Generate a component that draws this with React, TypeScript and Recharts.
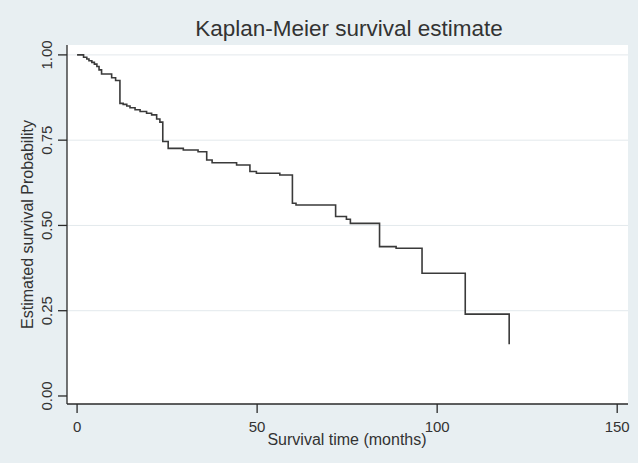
import React from 'react';
import { LineChart, Line, XAxis, YAxis, ReferenceLine, CartesianGrid } from 'recharts';

const months = [0, 1.8, 2.7, 3.3, 4.1, 4.8, 5.5, 6.1, 6.8, 9.6, 10.7, 11.9, 12.8, 13.8, 14.7, 16.1, 17.5, 19.3, 20.7, 22.1, 23.0, 23.8, 25.3, 29.5, 33.6, 36.0, 37.5, 44.3, 48.0, 49.8, 56.3, 59.8, 60.8, 71.8, 74.8, 75.9, 84.0, 88.6, 95.8, 107.8, 120.0];
const survival = [1.0, 0.993, 0.988, 0.983, 0.978, 0.973, 0.966, 0.956, 0.944, 0.933, 0.925, 0.858, 0.855, 0.85, 0.845, 0.839, 0.834, 0.829, 0.824, 0.812, 0.803, 0.746, 0.726, 0.721, 0.716, 0.692, 0.684, 0.677, 0.658, 0.653, 0.648, 0.565, 0.56, 0.526, 0.518, 0.506, 0.438, 0.433, 0.36, 0.24, 0.152];
const xTicks = [0, 50, 100, 150];
const yTicks = [0, 0.25, 0.5, 0.75, 1];
const gridValues = [0.25, 0.5, 0.75, 1];

const title = 'Kaplan-Meier survival estimate';
const xTitle = 'Survival time (months)';
const yTitle = 'Estimated survival Probability';

const data = months.map((t, i) => ({ t, s: survival[i] }));

const FONT = '"Liberation Sans", Arial, sans-serif';
const TEXT = '#333333';
const AXIS = '#2a2a2a';

const YTick = (props: any) => {
  const { y, payload } = props;
  const bx = 52;
  return (
    <text x={bx} y={y} transform={`rotate(-90, ${bx}, ${y})`} textAnchor="middle" fontSize={15} fill={TEXT} fontFamily={FONT}>
      {Number(payload.value).toFixed(2)}
    </text>
  );
};

const XTick = (props: any) => {
  const { x, payload } = props;
  return (
    <text x={x} y={432} textAnchor="middle" fontSize={15} fill={TEXT} fontFamily={FONT}>
      {payload.value}
    </text>
  );
};

const YLabel = () => (
  <text x={33} y={224.5} transform="rotate(-90, 33, 224.5)" textAnchor="middle" fontSize={16} fill={TEXT} fontFamily={FONT}>
    {yTitle}
  </text>
);

const XLabel = () => (
  <text x={347} y={445} textAnchor="middle" fontSize={16} fill={TEXT} fontFamily={FONT}>
    {xTitle}
  </text>
);

export default function App() {
  return (
    <div style={{ position: 'absolute', left: 0, top: 0, width: 638, height: 463, background: '#e8eff2' }}>
      <div style={{ position: 'absolute', left: 0, top: 16, width: 698, textAlign: 'center', fontFamily: FONT, fontSize: 22.5, color: TEXT, lineHeight: '26px' }}>
        {title}
      </div>
      <LineChart width={638} height={463} data={data} margin={{ top: 45, right: 10, bottom: 29, left: 10 }}>
        <CartesianGrid fill="#ffffff" horizontal={false} vertical={false} />
        {gridValues.map((v) => (
          <ReferenceLine key={v} y={v} stroke="#e3e9ec" strokeWidth={1} />
        ))}
        <XAxis
          dataKey="t"
          type="number"
          domain={[-2.8, 153]}
          ticks={xTicks}
          allowDataOverflow
          height={30}
          tickSize={9}
          axisLine={{ stroke: AXIS, strokeWidth: 1.3 }}
          tickLine={{ stroke: AXIS, strokeWidth: 1.3 }}
          tick={<XTick />}
          label={() => <XLabel />}
        />
        <YAxis
          type="number"
          domain={[-0.0235, 1.029]}
          ticks={yTicks}
          allowDataOverflow
          width={57}
          tickSize={9}
          axisLine={{ stroke: AXIS, strokeWidth: 1.3 }}
          tickLine={{ stroke: AXIS, strokeWidth: 1.3 }}
          tick={<YTick />}
          label={() => <YLabel />}
        />
        <Line type="stepAfter" dataKey="s" stroke="#3a3a3a" strokeWidth={1.6} dot={false} isAnimationActive={false} />
      </LineChart>
    </div>
  );
}
